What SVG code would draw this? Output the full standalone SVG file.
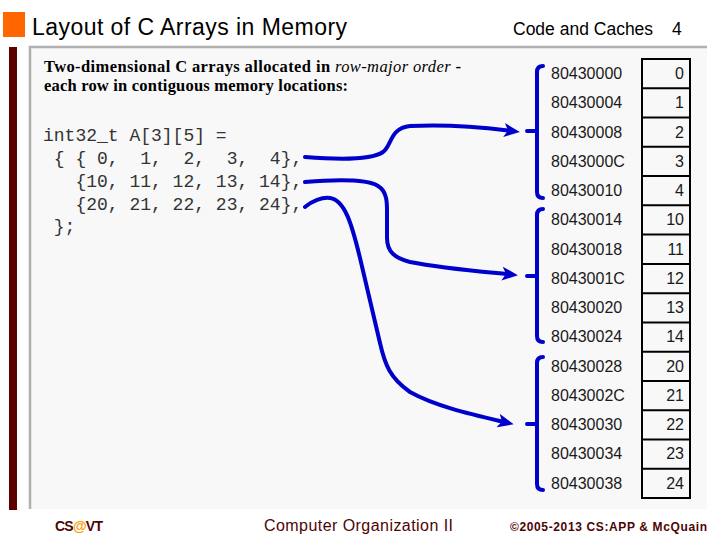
<svg xmlns="http://www.w3.org/2000/svg" width="720" height="540" viewBox="0 0 720 540">
<style>
.title{font-family:"Liberation Sans",Arial,sans-serif;font-size:23px;fill:#000}
.hdr{font-family:"Liberation Sans",Arial,sans-serif;font-size:17.5px;fill:#000}
.body{font-family:"Liberation Serif","Times New Roman",serif;font-size:16.5px;font-weight:bold;fill:#000}
.it{font-style:italic;font-weight:normal}
.code{font-family:"Liberation Mono","Courier New",monospace;font-size:18px;fill:#333;white-space:pre}
.addr{font-family:"Liberation Sans",Arial,sans-serif;font-size:16px;fill:#1a1a1a}
.val{font-family:"Liberation Sans",Arial,sans-serif;font-size:16px;fill:#1a1a1a;text-anchor:end}
.cell{fill:none;stroke:#000;stroke-width:2}
.conn{fill:none;stroke:#0000cc;stroke-width:4;stroke-linecap:round;stroke-linejoin:round}
.foot{font-family:"Liberation Sans",Arial,sans-serif;fill:#4d0505}
</style>
<defs>
<marker id="ah" markerUnits="userSpaceOnUse" markerWidth="16" markerHeight="14" viewBox="0 0 16 14" refX="4" refY="7" orient="auto">
<path d="M0,0 L16,7 L0,14 L4,7 z" fill="#0000cc"/>
</marker>
</defs>
<rect width="720" height="540" fill="#fff"/>
<g id="frame">
<rect x="3" y="12" width="22" height="25" fill="#ff6600"/>
<rect x="30" y="47" width="677" height="462" fill="#f8f8f8"/>
<path d="M30 509 V47 H707" fill="none" stroke="#b0b0b0" stroke-width="2.5"/>
<rect x="9" y="47" width="8" height="463" fill="#5c0000"/>
</g>
<g id="title">
<text class="title" x="32" y="35" textLength="315">Layout of C Arrays in Memory</text>
<text class="hdr" x="513" y="35">Code and Caches</text>
<text class="hdr" x="672" y="35">4</text>
</g>
<g id="desc">
<text class="body" x="44" y="72" textLength="417">Two-dimensional C arrays allocated in <tspan class="it">row-major order</tspan> -</text>
<text class="body" x="44" y="91" textLength="304">each row in contiguous memory locations:</text>
</g>
<g id="code">
<text class="code" x="43" y="141">int32_t A[3][5] =</text>
<text class="code" x="43" y="164"> { { 0,  1,  2,  3,  4},</text>
<text class="code" x="43" y="187">   {10, 11, 12, 13, 14},</text>
<text class="code" x="43" y="210">   {20, 21, 22, 23, 24},</text>
<text class="code" x="43" y="232"> };</text>
</g>
<g id="memory">
<rect class="cell" x="642" y="59" width="48" height="439"/>
<path class="cell" d="M642 88.3H690M642 117.5H690M642 146.8H690M642 176.1H690M642 205.3H690M642 234.6H690M642 263.9H690M642 293.2H690M642 322.4H690M642 351.7H690M642 381H690M642 410.2H690M642 439.5H690M642 468.8H690"/>
<text class="addr" x="551" y="79">80430000</text><text class="val" x="684" y="79">0</text>
<text class="addr" x="551" y="108">80430004</text><text class="val" x="684" y="108">1</text>
<text class="addr" x="551" y="138">80430008</text><text class="val" x="684" y="138">2</text>
<text class="addr" x="551" y="167">8043000C</text><text class="val" x="684" y="167">3</text>
<text class="addr" x="551" y="196">80430010</text><text class="val" x="684" y="196">4</text>
<text class="addr" x="551" y="225">80430014</text><text class="val" x="684" y="225">10</text>
<text class="addr" x="551" y="255">80430018</text><text class="val" x="684" y="255">11</text>
<text class="addr" x="551" y="284">8043001C</text><text class="val" x="684" y="284">12</text>
<text class="addr" x="551" y="313">80430020</text><text class="val" x="684" y="313">13</text>
<text class="addr" x="551" y="342">80430024</text><text class="val" x="684" y="342">14</text>
<text class="addr" x="551" y="372">80430028</text><text class="val" x="684" y="372">20</text>
<text class="addr" x="551" y="401">8043002C</text><text class="val" x="684" y="401">21</text>
<text class="addr" x="551" y="430">80430030</text><text class="val" x="684" y="430">22</text>
<text class="addr" x="551" y="459">80430034</text><text class="val" x="684" y="459">23</text>
<text class="addr" x="551" y="489">80430038</text><text class="val" x="684" y="489">24</text>
</g>
<g id="connectors">
<path class="conn" d="M543 66 Q537 66 537 72 V192 Q537 198 543 198 M527 131 H537"/>
<path class="conn" d="M543 209 Q537 209 537 215 V336 Q537 342 543 342 M527 276 H537"/>
<path class="conn" d="M543 357 Q537 357 537 363 V484 Q537 490 543 490 M527 424 H537"/>
<path class="conn" marker-end="url(#ah)" d="M305 157 C330 159, 370 161, 383 152 C392 145, 390 128, 410 126 C450 124, 480 127, 508 130.5"/>
<path class="conn" marker-end="url(#ah)" d="M305 182 C330 180, 365 178, 378 186 C388 192, 387 205, 387 215 L387 238 C387 252, 395 258, 410 262 C440 268, 475 271, 506 274"/>
<path class="conn" marker-end="url(#ah)" d="M305 207 C312 201, 322 197, 330 198 C345 200, 352 225, 360 258 L380 343 C385 365, 390 378, 410 392 C435 406, 470 414, 502 421.5"/>
</g>
<g id="footer">
<text class="foot" x="55" y="531" font-size="14" font-weight="bold" textLength="48">CS<tspan fill="#ff9900">@</tspan>VT</text>
<text class="foot" x="264" y="531" font-size="16" textLength="189">Computer Organization II</text>
<text class="foot" x="510" y="531" font-size="12" font-weight="bold" textLength="197">©2005-2013 CS:APP &amp; McQuain</text>
</g>
</svg>
